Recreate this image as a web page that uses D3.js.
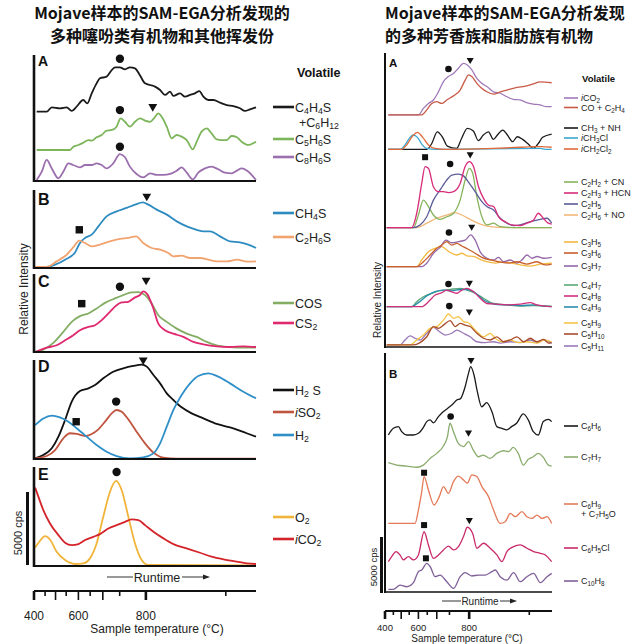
<!DOCTYPE html>
<html><head><meta charset="utf-8">
<script src="https://cdn.jsdelivr.net/npm/d3@7"></script>
<style>body{margin:0;background:#fff}</style>
</head><body><svg id="c" width="640" height="644"></svg>
<script>
// ---------- DATA (x = runtime %, y = relative intensity % of panel) ----------
const titleLeft = ["Mojave样本的SAM-EGA分析发现的", "多种噻吩类有机物和其他挥发份"];
const titleRight = ["Mojave样本的SAM-EGA分析发现", "的多种芳香族和脂肪族有机物"];
const tickTemps = [400,450,500,550,600,650,700,750,800,900];
const tickRuntime = [0,5,9.7,14.5,20,25.3,31,38.6,50.4,86.4];
const tickLabels = ["400","","","","600","","","","800",""];

// Left A
const LA_C4H4S = [[1.2,55],[5.7,55],[8,58.5],[11.7,57.7],[14.7,58.5],[17,55.6],[19.2,59],[22.2,64.3],[24,61.6],[26,69.6],[28.2,77.5],[29.7,81.5],[32.7,82.8],[35,88],[36.5,90.2],[38.7,90.2],[41,88.6],[43.2,90.2],[45.5,89.4],[47.7,84],[50,77.5],[52.3,76.2],[54.5,74.9],[56.8,72.2],[59,68.3],[61.3,70.9],[62.8,67.5],[65.8,69.6],[68,66.9],[70.3,68.3],[72.5,69.6],[74.5,71.4],[76.3,66.9],[78.5,64.3],[80.8,64.3],[83.8,62.2],[86.8,60.3],[89.8,59.5],[92.8,57.7],[95,55.6],[97.3,56.9],[100,58.5]];
const LA_C5H6S = [[1.2,24.6],[16.2,24.6],[17.7,27.2],[20,28.6],[22.2,30.4],[24.5,32.5],[26,32],[28.2,34.7],[30.5,36.5],[32.7,40],[35,40.5],[37.2,43.1],[39,49.7],[41,47],[43.2,43.1],[45.5,47],[47.7,49.7],[50,47.9],[52.3,47],[54,49.7],[56,53.7],[57.5,51],[59.8,43.1],[62,33.9],[64.3,36.5],[66.5,35.2],[68.8,32.5],[71.5,25.1],[73.3,31.2],[75.5,39.2],[77.8,41.8],[80,37.8],[82.3,33],[84.5,32.5],[86.8,32.5],[89,35.7],[91.4,34.7],[93.5,31.2],[96.5,28.6],[100,31.2]];
const LA_C8H6S = [[1.2,0.8],[3.5,7.4],[5.7,16.7],[8,10],[11,2.1],[13.2,7.4],[15.5,14],[17.7,12.7],[20.7,10.8],[23,12.7],[26,12.7],[28.2,14],[30.5,12.7],[32.7,10],[35.7,14],[38.7,21.4],[41,18.8],[43.2,11.4],[46.2,5.6],[49.2,2.9],[52.3,6.1],[55.3,4.8],[58.3,4.8],[61.3,5.6],[64.3,8.2],[66.5,10.8],[68.8,6.6],[71.5,1.3],[74,6.6],[77,10],[80,11.4],[83,9.3],[86,6.6],[89,6.1],[91.4,8.2],[93.5,10],[96,8.2],[100,0.8]];
// Left B
const LB_CH4S = [[0.4,1.3],[5.7,1.3],[9.5,4.3],[14,10.7],[18.5,20],[20.7,32],[23,38.5],[26,42.7],[29,53.4],[32.7,66.2],[37.2,72.6],[41.7,77],[45.5,81.2],[49,84.2],[51.5,81.2],[55.3,74.8],[59.8,68.4],[64.3,59.8],[68.8,53.4],[73.3,49],[76.3,47],[79.3,47],[83.8,40.6],[88.3,34.2],[92.8,32.9],[96.5,30],[100,25.6]];
const LB_C2H6S = [[0.4,1.3],[5.7,1.3],[10.2,8.5],[14.7,17],[18,27.8],[20.4,35],[23,32],[26,27.8],[29.7,30],[34.2,34.2],[38.7,37.2],[42.5,38.5],[46,40.6],[49.2,32],[53,25.6],[56.8,23.5],[60.5,19.2],[62.8,15],[66.5,15.8],[70.3,12.8],[74.8,12.8],[78.5,10.7],[82.3,8.5],[86.8,8.5],[91.4,10.7],[96,8.1],[100,8.5]];
// Left C
const LC_COS = [[0.5,0],[4.2,3],[8.7,11.6],[13.2,25.8],[17,38.6],[20.7,46],[24.5,49.4],[28.2,55.8],[32,63],[36.5,68.7],[40.2,73],[44,76.4],[47,76.8],[50,73],[53,62.2],[56,47.2],[59.8,38.6],[64.3,30],[68.8,23.6],[73.3,19.3],[77.8,12.9],[82.3,8.6],[88.3,6.4],[94.3,5.6],[100,5.6]];
const LC_CS2 = [[0.5,0],[5.7,5.6],[10.2,8.6],[14,15],[17.7,21.5],[20.7,27.9],[24.5,32.2],[27.5,34.3],[30.5,40.8],[34.2,51.5],[37.2,60],[39.5,63.5],[42.5,64.4],[45.5,70],[47.7,73],[49.2,77.7],[51,74.2],[53.5,58],[56,36.5],[59,27.9],[62.8,23.6],[67.3,19.3],[71.8,12.9],[76.3,9.9],[82.3,7.3],[88.3,6.4],[94.3,7.3],[100,6.4]];
// Left D
const LD_H2S = [[0.5,0.7],[4.2,4],[8,10.8],[11,22.6],[14,39.4],[17,58],[20.7,68.7],[24.5,71.4],[27.5,74.7],[31.2,81.5],[35.7,88.2],[40.2,91.6],[44.7,94],[48.5,95.3],[50.8,93.3],[53.8,84.8],[56.8,76.4],[59.8,66.3],[62.8,59.6],[66.5,52.2],[71,46.1],[76.3,41],[82.3,35.4],[89.8,31],[95.8,26],[100,22.6]];
const LD_iSO2 = [[0.5,0.7],[5.7,3],[9.5,9],[13.2,20.9],[16.2,26],[19.2,25.3],[23,23.2],[26,25.3],[29,30],[32,37.7],[35,46.1],[37.2,49.5],[39.5,47.8],[42.5,40],[46.2,27.6],[50,15.8],[53.8,6.4],[58.3,1.3],[64.3,0.3],[100,0.3]];
const LD_H2 = [[0.5,34.3],[4.2,41],[8,43.8],[11.7,42],[15.5,37.7],[19.2,31],[23.7,22.6],[28.2,14.1],[32.7,7.4],[37.2,3],[43.2,0.7],[49.2,1.7],[53.8,5.7],[56.8,15.8],[59.8,32.7],[62.8,49.5],[66.5,64.6],[70.3,76.4],[74,83.8],[78.5,86.5],[83,83.2],[88.3,76.4],[94.3,68],[100,61.3]];
// Left E
const LE_O2 = [[0.5,18.8],[2.4,24.5],[5,30.2],[7.2,26.8],[10.2,14.4],[14,6],[18.5,2],[22.2,2.7],[25.2,7.7],[28.2,22.8],[31.2,49.7],[34.2,74.8],[37,85.9],[39.5,76.5],[42.5,49.7],[45.5,22.8],[48.5,6],[51.5,1],[100,0.7]];
const LE_iCO2 = [[0.5,79.2],[2,69.8],[4.2,56.4],[7.2,43],[11,31.2],[14,23.5],[17,21.1],[20,22.1],[23,26.2],[26.7,29.5],[29.7,32.2],[33.5,37.9],[37.2,41.3],[41,44.6],[44,47],[47,46.3],[50,41.3],[53.8,34.6],[58.3,27.9],[62.8,22.1],[68.8,17.8],[74.8,13.4],[80,9.4],[85.3,6.7],[91.3,4.4],[95.8,2.7],[100,2]];

// Right A
const RA_iCO2 = [[2,79.5],[20,79.5],[23,81.7],[26,83.4],[29,84.6],[32,87.4],[35,90.9],[37.9,92.6],[41,93.7],[43.9,95.4],[47,97.1],[49.3,96.6],[52,94.9],[55,92],[57.9,90.3],[61,89.2],[65,87.4],[69,86.9],[73,85.7],[76.8,84.8],[80.8,84.6],[84.8,83.7],[88.8,83.2],[92.8,82.9],[96.8,82.3],[99.8,82.3]];
const RA_CO_C2H4 = [[2,79.5],[22,79.5],[25,81.2],[28,83.4],[31,84],[34,83.4],[37,84.6],[41,86],[45,88],[48,91.4],[50,93.2],[52,92.6],[55,90.3],[57.9,88.6],[61,87.4],[65,86.6],[69,87.4],[73,88],[79,88.9],[84.8,89.4],[88.8,90.1],[92.8,90.8],[99.8,90.5]];
const RA_CH3_NH = [[2,67.7],[25,67.7],[28,69.7],[31.3,73.7],[34.5,71.8],[37.3,68.8],[42.9,68],[45.9,71.5],[49.3,74.9],[52.9,74],[55.9,70.7],[58.9,72.6],[61.9,73.7],[64.9,71.1],[67.3,72.6],[70.5,74.3],[73.3,72.6],[76.4,70.3],[79.2,72],[82.4,71.1],[85.8,69.5],[88.8,68],[91.8,69.7],[94.4,71.8],[99.8,72.9]];
const RA_iCH3Cl = [[2,67.7],[9,67.7],[12,69.2],[15,71.8],[17,72.6],[19.4,71.8],[22,69.5],[25,68],[31,67.7],[93,68],[96,67.7],[99.8,67.7]];
const RA_iCH2Cl2 = [[2,67.7],[10,67.7],[13,69.2],[16.6,72.3],[19.4,73.5],[22.6,71.8],[26,69.2],[30,68],[37,67.7],[65,68],[80.8,68.4],[88.8,68.6],[93.8,68.6],[99.8,68.4]];
const RA_C2H2_CN = [[1,40.9],[17,40.9],[20,45.2],[23,50.3],[26,48.1],[29,45.2],[33,43.7],[37,44.6],[41,45.8],[45,50.3],[48,57.2],[50.5,61.2],[52.5,59.5],[55,51.5],[58,44.6],[61,41.8],[65,42.4],[69,41.2],[77,40.9],[99.8,40.9]];
const RA_C2H3_HCN = [[1,40.9],[16,40.9],[19,45.8],[22,56],[24,61.8],[26,61.2],[29,54.9],[32,53.2],[35,53.2],[38,52.9],[41,53.2],[45,56],[48,61.8],[50.5,63.5],[53,61.8],[56,54.9],[59,50.9],[62,48.6],[65,48.1],[68,44.6],[72,42.9],[76,41.8],[81,41.6],[85,42.4],[89,43.5],[91.8,45.8],[94.8,44.1],[97.8,42.4],[99.8,42.1]];
const RA_C2H5 = [[1,40.9],[17,40.9],[21,41.8],[25,44.6],[29,50.3],[33,53.8],[37,57.2],[40,58.9],[44,59.2],[47,58.6],[50.5,56],[54,53.2],[58,49.8],[61,48.1],[65,46.9],[69,44.1],[73,42.4],[77,41.6],[81,41.8],[85,42.6],[89,43.2],[93,43.7],[97,44.1],[99.8,42.4]];
const RA_C2H6_NO = [[1,40.9],[19,40.9],[25,42.4],[31,44.1],[37,45.2],[42,46],[46,45.2],[51,43.7],[57,42.1],[63,41.2],[73,40.9],[99.8,40.9]];
const RA_C3H5 = [[1,27.5],[19,27.5],[22,29.8],[26,32.6],[30,33.8],[34,34.4],[37,33.2],[40,32.1],[43,31.5],[46,32.1],[49,31.2],[53,31],[57,30],[61,29.2],[66,28.7],[71,29.2],[76,28.7],[81,28.1],[87,27.7],[93,28.4],[99.8,28.7]];
const RA_C3H6 = [[1,27.5],[19,27.5],[23,29.2],[27,31.5],[31,33.8],[34,34.9],[37,36.1],[40,34.9],[43,35.5],[46,34.6],[50,33.4],[54,32.1],[58,30.7],[63,29.8],[68,29.2],[74,28.7],[79,29.2],[85,28.4],[91,29.2],[96,28.1],[99.8,28.4]];
const RA_C3H7 = [[1,27.5],[22,27.5],[25,28.7],[29,32.1],[33,34.1],[36.5,36.6],[40,35.7],[44,36.1],[48,36.6],[51.3,38.4],[54,36.6],[57,32.6],[61,30.4],[65,29.8],[68,30.7],[71,29.2],[75,29.8],[79,28.7],[82,29.8],[85,31.5],[88,30.4],[91,31],[95,30.4],[99.8,30.7]];
const RA_C4H7 = [[1,13.8],[16,13.8],[19,15.5],[23,17.2],[28,18.4],[33,19.3],[39,19.7],[45,20.1],[49,19.5],[54,18.4],[59,16.7],[65,14.9],[73,14.4],[81,14],[89,14.2],[99.8,14]];
const RA_C4H8 = [[1,13.8],[22,13.8],[26,15.5],[30,17.8],[34,18.6],[37,19.5],[40,18.9],[43,18.4],[46,19.5],[49,20.1],[53,18.9],[57,16.7],[61,14.9],[67,14.7],[73,14.4],[81,14.7],[87,15.2],[91,14.4],[99.8,13.8]];
const RA_C4H9 = [[1,13.8],[16,13.8],[20,15.2],[25,17.5],[30,19],[35,19.5],[40,19.2],[45,19.7],[49,19.7],[54,18.6],[59,16.1],[65,14.7],[73,14.4],[81,14.2],[89,14.4],[95,14],[99.8,13.8]];
const RA_C5H9 = [[1,0.7],[15,0.7],[19,2.4],[23,4.1],[27,6.4],[31,7],[35,9.2],[38,11.3],[41,9.8],[44,10.4],[47,8.7],[50,8.3],[53,6.4],[56,4.7],[59,3.5],[63,4.7],[66,3],[70,1.8],[75,2.4],[80,1.5],[85,1.8],[91,1.3],[95,2.4],[99.8,1.8]];
const RA_C5H10 = [[1,0.7],[17,0.7],[21,1.5],[25,3.5],[29,7],[32,6.4],[35,7.5],[39,9],[42,7],[45,8.1],[48,7.5],[51,7],[55,4.7],[59,3],[63,2.4],[67,3.5],[71,1.8],[75,2.4],[79,3.5],[83,1.8],[87,3],[91,1.8],[95,2.6],[98,1.3],[99.8,1.5]];
const RA_C5H11 = [[1,0.7],[9,0.7],[12,2.4],[15,3.8],[18,3],[21,2.4],[25,4.7],[29,6.7],[32.5,5.3],[36,4.1],[40,4.7],[43,5.8],[47,4.7],[51,3.5],[55,1.8],[60,1.5],[65,1.8],[69,1.3],[75,1.8],[81,1.5],[87,2.4],[91,1.5],[95,2.4],[99.8,1.3]];
// Right B
const RB_C6H6 = [[2,65.7],[5,68.5],[8,69.2],[10,67.1],[13,65.7],[17,65.7],[20,66.4],[23,68.9],[25,71.3],[27,72],[29,70.8],[32,73.4],[35,75.5],[37.4,76.8],[40,78.2],[43,80.3],[45.3,81],[48,85.9],[50,91.5],[51.3,94.3],[53.3,90.8],[55.3,83.8],[57.9,77.5],[60.9,79.2],[64,75.5],[67,69.2],[69.9,68.5],[72.9,67.8],[75.8,69.2],[78.8,70.6],[82.8,74.5],[85.8,72],[88.8,67.1],[91.8,65.7],[94.8,71.3],[97.8,72.2],[99.8,71.3]];
const RB_C7H7 = [[2,54.1],[7,53.1],[13,52.7],[19,52.2],[23,53.1],[27,55.9],[31,58],[35,61.1],[37.4,65],[38.9,70.6],[41,67.1],[43.9,62.2],[47,60.8],[50,62.9],[52.9,59.4],[55.9,56.6],[58.9,57.3],[62.9,55.9],[66.9,58],[70.9,59.1],[73.9,58.7],[76.8,60.5],[79.8,58],[82.8,53.1],[85.8,55.5],[88.8,56.6],[91.8,58],[94.8,56.3],[97.8,53.1],[99.8,52.7]];
const RB_C6H9_C7H5O = [[2,28.7],[18,28.7],[20,34.3],[22,42],[23.4,48.3],[26,42.7],[29.4,36.4],[32.5,39.9],[35,44.1],[38,41.3],[41,46.2],[43.9,48.5],[47,46.9],[49.3,45.5],[52,49],[55,48.3],[58,44.1],[62,39.9],[65,34.3],[69,28.7],[72,29.4],[75,32.9],[78,31.5],[82,33.6],[85,31.5],[88,30.8],[91,32.2],[94,30.8],[97,31.5],[99.8,28.7]];
const RB_C6H5Cl = [[2,12.7],[4,14.8],[6.6,16.9],[9,15.5],[11,13.4],[14,14.8],[17,13.4],[20,15.5],[23.4,25.2],[26,19.7],[29,14.1],[32,15.5],[35,17.6],[38,19.2],[41,17.6],[44,19],[47,23.2],[49.3,27.1],[52.5,24.5],[55,18.3],[59,20.4],[63,18.3],[67,15.5],[70,12.7],[73,16.9],[77,19],[81,19.7],[85,18.3],[89,16.9],[93,16.2],[96,15.5],[99.8,12.7]];
const RB_C10H8 = [[2,1.1],[5,1.1],[9,2.9],[13,2.2],[17,3.9],[20,8.5],[22,9.2],[25,12],[27.3,10.3],[30,6.4],[33,7.1],[37,4.3],[41,1.5],[45,6.4],[48,8.1],[52,6.7],[56,7.1],[60,7.1],[64,8.5],[66,9.2],[69,6.4],[73,5],[77,8.1],[81,4.3],[85,6.4],[89,7.8],[93,3.9],[97,6.4],[99.8,7.8]];

// markers: [shape, runtime %, intensity %]
const mkLA = [['c',38.7,97],['c',38.7,56.3],['t',53.5,59],['c',38.7,27.2]];
const mkLB = [['s',20.4,49],['t',50.8,92]];
const mkLC = [['s',21.5,62],['c',38.7,83.7],['t',50.5,92]];
const mkLD = [['t',49.2,100],['s',19,37.7],['c',37,58]];
const mkLE = [['c',37.2,95]];
const mkRA = [['c',38,95.2],['t',51,98.3],['s',24,65],['c',39,62.7],['t',51,66],['c',38.3,39.2],['t',51.9,41.2],['c',38,21.6],['t',50.5,22],['c',38.5,14],['t',50.5,12.1]];
const mkRB = [['t',51.5,97],['c',39.3,73.4],['t',50,66.7],['s',23.4,49.9],['s',23.4,28],['t',50.5,30.1],['s',24.5,14.1]];

// ---------- LAYOUT / STYLE ----------
const FONT = '"Liberation Sans", Arial, Helvetica, sans-serif';
const svg = d3.select('#c');

const leftPanels = [
  {lab:'A', labFs:14, labY:66, top:55, bottom:181, mk:mkLA, series:[
    {d:LA_C4H4S,c:'#1a1a1a',l:'C4H4S',l2:'+C6H12',ly:107},
    {d:LA_C5H6S,c:'#7cb55a',l:'C5H6S',ly:139},
    {d:LA_C8H6S,c:'#9b6fae',l:'C8H6S',ly:157}]},
  {lab:'B', labFs:16, labY:205, top:190, bottom:268, mk:mkLB, series:[
    {d:LB_CH4S,c:'#2e8bc0',l:'CH4S',ly:213},
    {d:LB_C2H6S,c:'#f2a470',l:'C2H6S',ly:237}]},
  {lab:'C', labFs:16, labY:287, top:274, bottom:352, mk:mkLC, series:[
    {d:LC_COS,c:'#84ad64',l:'COS',ly:303},
    {d:LC_CS2,c:'#e0286e',l:'CS2',ly:323}]},
  {lab:'D', labFs:16, labY:372, top:360, bottom:459, mk:mkLD, series:[
    {d:LD_H2S,c:'#111111',l:'H2 S',ly:390},
    {d:LD_iSO2,c:'#c0553f',l:'iSO2',ly:412},
    {d:LD_H2,c:'#2f8fc8',l:'H2',ly:435}]},
  {lab:'E', labFs:16, labY:480, top:467, bottom:566, mk:mkLE, series:[
    {d:LE_O2,c:'#f0b43a',l:'O2',ly:517},
    {d:LE_iCO2,c:'#d4242a',l:'iCO2',ly:539}]}
];
const rightPanels = [
  {lab:'A', labY:67, top:55, bottom:347, axTop:53, mk:mkRA, series:[
    {d:RA_iCO2,c:'#a07ab8',l:'iCO2',ly:98},
    {d:RA_CO_C2H4,c:'#c85a48',l:'CO + C2H4',ly:107.5},
    {d:RA_CH3_NH,c:'#1a1a1a',l:'CH3 + NH',ly:128},
    {d:RA_iCH3Cl,c:'#3aa8d0',l:'iCH3Cl',ly:138},
    {d:RA_iCH2Cl2,c:'#e06a3a',l:'iCH2Cl2',ly:149},
    {d:RA_C2H6_NO,c:'#f2b87a',l:'C2H6 + NO',ly:215},
    {d:RA_C2H2_CN,c:'#86b45c',l:'C2H2 + CN',ly:182},
    {d:RA_C2H5,c:'#5c5c98',l:'C2H5',ly:204},
    {d:RA_C2H3_HCN,c:'#d82c7a',l:'C2H3 + HCN',ly:193},
    {d:RA_C3H5,c:'#f4b840',l:'C3H5',ly:242},
    {d:RA_C3H7,c:'#9468a8',l:'C3H7',ly:266},
    {d:RA_C3H6,c:'#c8602c',l:'C3H6',ly:253},
    {d:RA_C4H7,c:'#5aa878',l:'C4H7',ly:285},
    {d:RA_C4H9,c:'#2a8cac',l:'C4H9',ly:307},
    {d:RA_C4H8,c:'#d0307c',l:'C4H8',ly:296},
    {d:RA_C5H11,c:'#9a78b8',l:'C5H11',ly:346},
    {d:RA_C5H9,c:'#f4c444',l:'C5H9',ly:323},
    {d:RA_C5H10,c:'#a84c2c',l:'C5H10',ly:334}]},
  {lab:'B', labY:378, top:353, bottom:592, axTop:353, mk:mkRB, series:[
    {d:RB_C6H6,c:'#1a1a1a',l:'C6H6',ly:426},
    {d:RB_C7H7,c:'#8aac6c',l:'C7H7',ly:457},
    {d:RB_C6H9_C7H5O,c:'#e47a58',l:'C6H9',l2:'+ C7H5O',ly:504},
    {d:RB_C6H5Cl,c:'#c82a6a',l:'C6H5Cl',ly:548},
    {d:RB_C10H8,c:'#806098',l:'C10H8',ly:581}]}
];

// chemical formula text: digits as subscripts, leading lowercase i italic
function formula(textSel, label, fs) {
  const toks = [];
  let s = label;
  if (/^i[A-Z]/.test(s)) { toks.push({t:'i', it:true}); s = s.slice(1); }
  s.replace(/(\d+)|([^\d]+)/g, (m, d, o) => { toks.push(d ? {t:d, sub:true} : {t:o}); return m; });
  let cur = 0;
  toks.forEach(tk => {
    const want = tk.sub ? fs * 0.22 : 0;
    const ts = textSel.append('tspan').text(tk.t).attr('dy', want - cur);
    if (tk.sub) ts.attr('font-size', fs * 0.7);
    if (tk.it) ts.attr('font-style', 'italic');
    cur = want;
  });
}

function drawMarkers(mk, x, y, size) {
  const types = {c:d3.symbolCircle, s:d3.symbolSquare, t:d3.symbolTriangle};
  mk.forEach(m => {
    const sym = d3.symbol().type(types[m[0]]).size(size[m[0]]);
    svg.append('path').attr('d', sym())
      .attr('transform', `translate(${x(m[1])},${y(m[2])})` + (m[0]==='t' ? ' rotate(180)' : ''))
      .attr('fill', '#111');
  });
}

function drawChart(panels, opt) {
  const x = d3.scaleLinear().domain([0,100]).range([opt.x0, opt.x1]);
  panels.forEach(p => {
    const y = d3.scaleLinear().domain([0,100]).range([p.bottom, p.top]);
    const line = d3.line().x(d => x(d[0])).y(d => y(d[1])).curve(d3.curveMonotoneX);
    p.series.forEach(s => {
      svg.append('path').attr('d', line(s.d)).attr('fill','none')
        .attr('stroke', s.c).attr('stroke-width', opt.lw).attr('stroke-linejoin','round');
      // legend
      svg.append('line').attr('x1', opt.lgx0).attr('x2', opt.lgx1).attr('y1', s.ly).attr('y2', s.ly)
        .attr('stroke', s.c).attr('stroke-width', opt.lgw);
      const t = svg.append('text').attr('x', opt.lgtx).attr('y', s.ly + opt.lfs*0.36)
        .attr('font-family', FONT).attr('font-size', opt.lfs).attr('fill', '#222');
      formula(t, s.l, opt.lfs);
      if (s.l2) {
        const t2 = svg.append('text').attr('x', opt.lgtx + opt.l2dx).attr('y', s.ly + opt.l2dy + opt.lfs*0.36)
          .attr('font-family', FONT).attr('font-size', opt.lfs).attr('fill', '#222');
        formula(t2, s.l2, opt.lfs);
      }
    });
    drawMarkers(p.mk, x, y, opt.mk);
    // axes lines
    svg.append('line').attr('x1', opt.x0).attr('x2', opt.x0)
      .attr('y1', p.axTop !== undefined ? p.axTop : p.top).attr('y2', p.bottom + 1)
      .attr('stroke', '#111').attr('stroke-width', opt.axw);
    svg.append('line').attr('x1', opt.x0).attr('x2', opt.x1).attr('y1', p.bottom).attr('y2', p.bottom)
      .attr('stroke', '#111').attr('stroke-width', opt.axw * 0.8);
    svg.append('text').attr('x', opt.x0 + opt.labDx).attr('y', p.labY)
      .attr('font-family', FONT).attr('font-weight', 'bold').attr('font-size', p.labFs || opt.labFs)
      .attr('fill', '#111').text(p.lab);
  });
  // temperature axis
  const ax = svg.append('g');
  ax.append('line').attr('x1', opt.x0).attr('x2', opt.x1).attr('y1', opt.tAxY).attr('y2', opt.tAxY)
    .attr('stroke', '#111').attr('stroke-width', 1.8);
  tickRuntime.forEach((r, i) => {
    const major = (i % 2 === 0) && i < 9;
    ax.append('line').attr('x1', x(r)).attr('x2', x(r)).attr('y1', opt.tAxY)
      .attr('y2', opt.tAxY + (major ? opt.tMaj : opt.tMin))
      .attr('stroke', '#111').attr('stroke-width', tickTemps[i] === 800 || tickTemps[i] === 400 ? 2.6 : 1.6);
    if (tickLabels[i]) ax.append('text').attr('x', x(r)).attr('y', opt.tLabY)
      .attr('text-anchor', 'middle').attr('font-family', FONT).attr('font-size', opt.tfs)
      .attr('fill', '#222').text(tickLabels[i]);
  });
  ax.append('text').attr('x', opt.stX).attr('y', opt.stY).attr('text-anchor','middle')
    .attr('font-family', FONT).attr('font-size', opt.stfs).attr('fill','#222').text('Sample temperature (°C)');
  // runtime
  svg.append('line').attr('x1', opt.rt[0]).attr('x2', opt.rt[1]).attr('y1', opt.rtY).attr('y2', opt.rtY)
    .attr('stroke', '#333').attr('stroke-width', 1);
  svg.append('line').attr('x1', opt.rt[3]).attr('x2', opt.rt[4] - 5).attr('y1', opt.rtY).attr('y2', opt.rtY)
    .attr('stroke', '#333').attr('stroke-width', 1);
  svg.append('path').attr('d', `M${opt.rt[4]},${opt.rtY} l-7,-2.5 l0,5 z`).attr('fill', '#222');
  svg.append('text').attr('x', opt.rt[2]).attr('y', opt.rtY + opt.rtfs*0.36).attr('text-anchor','middle')
    .attr('font-family', FONT).attr('font-size', opt.rtfs).attr('fill','#222').text('Runtime');
  // volatile header
  svg.append('text').attr('x', opt.volX).attr('y', opt.volY).attr('font-family', FONT)
    .attr('font-weight','bold').attr('font-size', opt.volFs).attr('fill','#111').text('Volatile');
  // relative intensity
  svg.append('text').attr('transform', `translate(${opt.riX},${opt.riY}) rotate(-90)`)
    .attr('text-anchor','middle').attr('font-family', FONT).attr('font-size', opt.rifs)
    .attr('fill','#222').text('Relative Intensity');
  // scale bar
  svg.append('rect').attr('x', opt.bar[0]).attr('y', opt.bar[1]).attr('width', opt.bar[2]).attr('height', opt.bar[3]).attr('fill','#111');
  svg.append('text').attr('transform', `translate(${opt.cpsX},${opt.cpsY}) rotate(-90)`)
    .attr('text-anchor','middle').attr('font-family', FONT).attr('font-size', opt.cpsfs)
    .attr('fill','#222').text('5000 cps');
}

drawChart(leftPanels, {x0:34, x1:256, lw:1.8, lgx0:273, lgx1:294, lgw:2.6, lgtx:295, lfs:12.5,
  l2dx:4, l2dy:15, mk:{c:55, s:55, t:34}, axw:2.6, labDx:4, labFs:16,
  tAxY:591, tMaj:9, tMin:5, tLabY:620, tfs:12, stX:157, stY:633, stfs:12,
  rt:[107,133,157,182,210], rtY:577, rtfs:12.5, volX:297, volY:77, volFs:12.5,
  riX:28, riY:289, rifs:12, bar:[26,492,3,73], cpsX:22, cpsY:533, cpsfs:11});

drawChart(rightPanels, {x0:385, x1:552, lw:1.3, lgx0:564, lgx1:578, lgw:1.6, lgtx:581, lfs:9,
  l2dx:0, l2dy:10, mk:{c:34, s:36, t:22}, axw:2, labDx:4, labFs:11.5,
  tAxY:611, tMaj:8, tMin:4, tLabY:630.5, tfs:9.5, stX:467, stY:642, stfs:10,
  rt:[442,461,480,500,517], rtY:601, rtfs:10, volX:582, volY:82, volFs:9.5,
  riX:381, riY:300, rifs:10, bar:[380,537,3,56], cpsX:377, cpsY:567, cpsfs:9.5});

// titles
const TF = '"Noto Sans CJK SC", "Noto Sans", sans-serif';
titleLeft.forEach((t, i) => svg.append('text').attr('x', 162).attr('y', 18.5 + i*23.5).attr('text-anchor','middle')
  .attr('font-family', TF).attr('font-weight','bold').attr('font-size', 16).attr('fill','#111').text(t));
titleRight.forEach((t, i) => svg.append('text').attr('x', 385).attr('y', 18.5 + i*23.5)
  .attr('font-family', TF).attr('font-weight','bold').attr('font-size', 16).attr('fill','#111').text(t));
</script></body></html>
